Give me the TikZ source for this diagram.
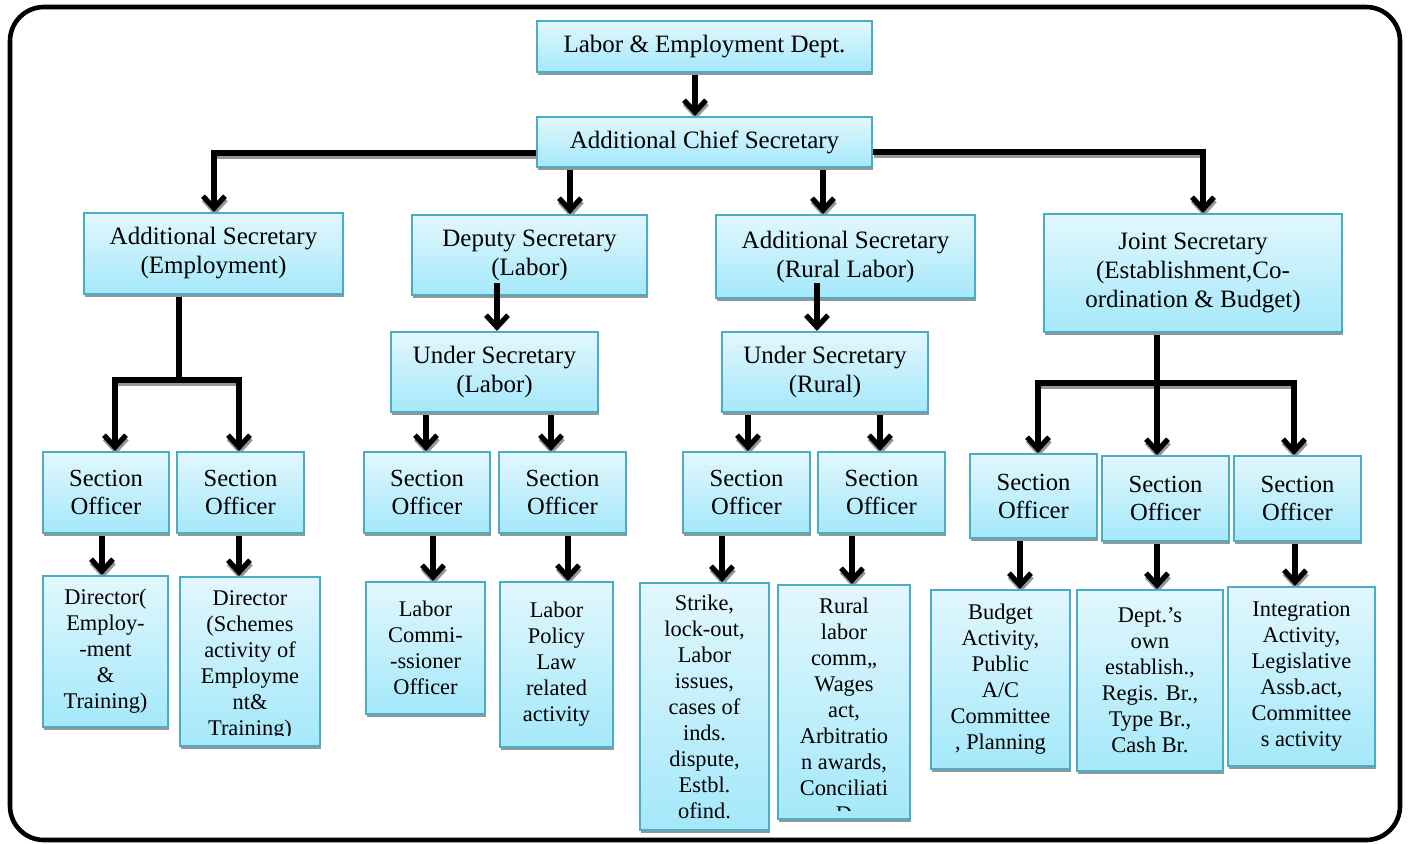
\documentclass[tikz,border=0pt]{standalone}
\usepackage{fontspec}
\setmainfont{Liberation Serif}
\usetikzlibrary{arrows.meta,shadows,calc}
\pgfdeclarelayer{background}
\pgfsetlayers{background,main}
\definecolor{cTop}{RGB}{226,247,253}
\definecolor{cBot}{RGB}{164,232,250}
\definecolor{cBorder}{RGB}{75,172,198}
\definecolor{cShadow}{RGB}{150,150,150}
\tikzset{
 box/.style={draw=cBorder, line width=1pt, top color=cTop, bottom color=cBot, inner sep=0pt, align=center,
   font=\fontsize{12.5}{14.5}\selectfont,
   drop shadow={shadow xshift=0.4pt, shadow yshift=-1.7pt, fill=cShadow, opacity=1}},
 sofc/.style={font=\fontsize{12.3}{14}\selectfont},
 low/.style={font=\fontsize{11.2}{13}\selectfont},
 ln/.style={line width=2.6pt, draw=black},
 conn/.style={ln, -{Straight Barb[length=6pt,width=11pt]}},
}
\newcommand\bx[7][]{\node[box,#1,minimum width={(#5-#3)*0.5pt},minimum height={(#6-#4)*0.5pt}] (#2) at ({(#3+#5)/2},{(#4+#6)/2}) {#7};}
\newcommand\allconns{%
 \draw[conn] (le.south -| 695,0) -- (acs.north -| 695,0);
 \draw[conn] (acs.west |- 0,153) -| (ase.north -| 214,0);
 \draw[conn] (acs.east |- 0,152) -| (js.north -| 1203,0);
 \draw[conn] (acs.south -| 570,0) -- (dsl.north -| 570,0);
 \draw[conn] (acs.south -| 823,0) -- (asr.north -| 823,0);
 \draw[ln] (ase.south -| 179,0) -- (eJ);
 \draw[conn] (eJ) -| (so1.north -| 115,0);
 \draw[conn] (eJ) -| (so2.north -| 239,0);
 \draw[conn] (usl.south -| 426,0) -- (so3.north -| 426,0);
 \draw[conn] (usl.south -| 551,0) -- (so4.north -| 551,0);
 \draw[conn] (usr.south -| 748,0) -- (so5.north -| 748,0);
 \draw[conn] (usr.south -| 880,0) -- (so6.north -| 880,0);
 \draw[ln] (js.south -| 1157,0) -- (jJ);
 \draw[conn] (jJ) -| (so7.north -| 1038,0);
 \draw[conn] (jJ) -- (so8.north -| 1157,0);
 \draw[conn] (jJ) -| (so9.north -| 1294,0);
 \draw[conn] (so1.south -| 102,0) -- (d1.north -| 102,0);
 \draw[conn] (so2.south -| 239,0) -- (d2.north -| 239,0);
 \draw[conn] (so3.south -| 433,0) -- (lc.north -| 433,0);
 \draw[conn] (so4.south -| 568,0) -- (lp.north -| 568,0);
 \draw[conn] (so5.south -| 722,0) -- (st.north -| 722,0);
 \draw[conn] (so6.south -| 852,0) -- (rl.north -| 852,0);
 \draw[conn] (so7.south -| 1020,0) -- (bud.north -| 1020,0);
 \draw[conn] (so8.south -| 1157,0) -- (dep.north -| 1157,0);
 \draw[conn] (so9.south -| 1295,0) -- (int.north -| 1295,0);
}
\begin{document}
\begin{tikzpicture}[x=0.5pt,y=-0.5pt]
\useasboundingbox (0,0) rectangle (1410,843);
\draw[line width=2.3pt,rounded corners=17pt] (10,7) rectangle (1400,840);

\bx{le}{537}{21}{872}{72}{Labor \& Employment Dept.}
\bx{acs}{537}{117}{872}{167}{Additional Chief Secretary}
\bx{ase}{84}{213}{343}{294}{Additional Secretary\\(Employment)}
\bx{dsl}{412}{215}{647}{295}{Deputy Secretary\\(Labor)}
\bx{asr}{716}{215}{975}{298}{Additional Secretary\\(Rural Labor)}
\bx{js}{1044}{214}{1342}{332}{Joint Secretary\\(Establishment,Co-\\ordination \& Budget)}
\bx{usl}{391}{332}{598}{412}{Under Secretary\\(Labor)}
\bx{usr}{722}{332}{928}{412}{Under Secretary\\(Rural)}
\bx[sofc]{so1}{43}{452}{169}{533}{Section\\Officer}
\bx[sofc]{so2}{177}{452}{304}{533}{Section\\Officer}
\bx[sofc]{so3}{364}{452}{490}{533}{Section\\Officer}
\bx[sofc]{so4}{499}{452}{626}{533}{Section\\Officer}
\bx[sofc]{so5}{683}{452}{810}{533}{Section\\Officer}
\bx[sofc]{so6}{818}{452}{945}{533}{Section\\Officer}
\bx[sofc]{so7}{970}{454}{1097}{538}{Section\\Officer}
\bx[sofc]{so8}{1102}{456}{1229}{541}{Section\\Officer}
\bx[sofc]{so9}{1234}{456}{1361}{541}{Section\\Officer}
\bx[low]{d1}{43}{576}{168}{727}{Director(\\Employ-\\-ment\\\&\\Training)}
\bx[low]{d2}{180}{577}{320}{746}{}
\bx[low]{lc}{366}{582}{485}{714}{Labor\\Commi-\\-ssioner\\Officer}
\bx[low]{lp}{500}{582}{613}{747}{Labor\\Policy\\Law\\related\\activity}
\bx[low]{st}{640}{583}{769}{830}{Strike,\\lock-out,\\Labor\\issues,\\cases of\\inds.\\dispute,\\Estbl.\\ofind.}
\bx[low]{rl}{778}{585}{910}{819}{}
\bx[low]{bud}{931}{590}{1070}{769}{Budget\\Activity,\\Public\\A/C\\Committee\\, Planning}
\bx[low]{dep}{1077}{590}{1223}{771}{Dept.’s\\own\\establish.,\\Regis. Br.,\\Type Br.,\\Cash Br.}
\bx[low]{int}{1228}{587}{1375}{766}{Integration\\Activity,\\Legislative\\Assb.act,\\Committee\\s activity}

\begin{scope}
 \clip (182,579) rectangle (318,735);
 \node[low,align=center,inner sep=0pt,anchor=north] (d2t) at (250,590) {Director\\(Schemes\\activity of\\Employme\\nt\&\\Training)};
\end{scope}
\begin{scope}
 \clip (780,587) rectangle (908,810);
 \node[low,align=center,inner sep=0pt,anchor=north] (rlt) at (844,598) {Rural\\labor\\comm,,\\Wages\\act,\\Arbitratio\\n awards,\\Conciliati\\D};
\end{scope}

\coordinate (eJ) at (179,380);
\coordinate (jJ) at (1157,383);
\begin{pgfonlayer}{background}
 \begin{scope}[transform canvas={shift={(0.4pt,-1.7pt)}}, ln/.style={line width=2.6pt, draw=cShadow}]
  \allconns
 \end{scope}
 \allconns
\end{pgfonlayer}
\draw[conn] ($(dsl.south -| 497,0)+(0,-13)$) -- (usl.north -| 497,0);
\draw[conn] ($(asr.south -| 817,0)+(0,-16)$) -- (usr.north -| 817,0);
\end{tikzpicture}
\end{document}
